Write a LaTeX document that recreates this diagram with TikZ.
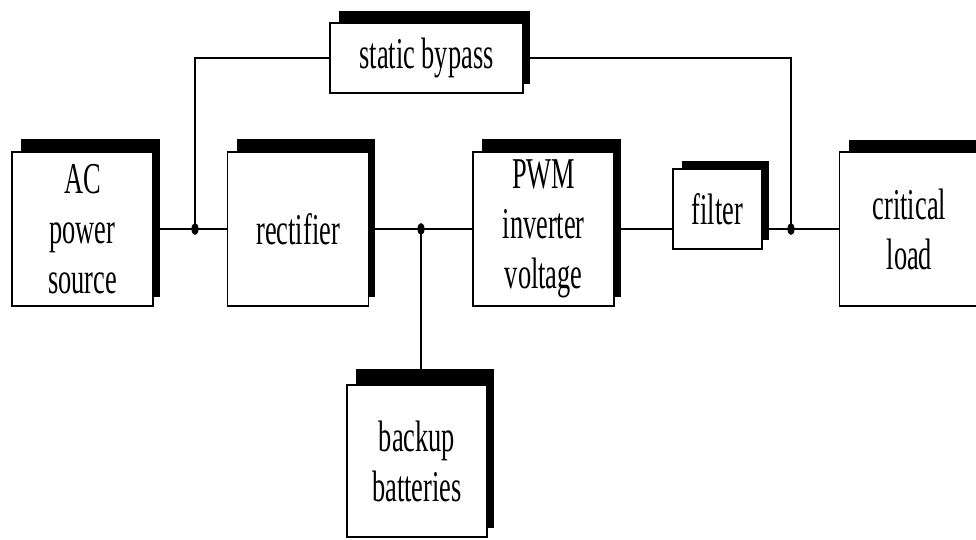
\documentclass[tikz,border=0pt]{standalone}
\usepackage{fontspec}
\setmainfont{Liberation Serif}[FakeStretch=0.6]
\usetikzlibrary{positioning, backgrounds}

\begin{document}
\begin{tikzpicture}[
    x=1pt, y=-1pt,
    block/.style={rectangle, draw, line width=1.6pt, fill=white, inner sep=0pt,
                  minimum width=141pt, minimum height=154pt, align=center,
                  font=\fontsize{44}{50}\selectfont},
    wire/.style={line width=1.3pt},
    junction/.style={fill},
]
    \useasboundingbox (0,0) rectangle (976,539);

    \node[block] (ac) at (82.5,229) {AC\\power\\source};
    \node[block, right=73pt of ac] (rect) {rectifier};
    \node[block, right=103pt of rect] (pwm) {PWM\\inverter\\voltage};
    \node[block, right=57pt of pwm, yshift=20pt, minimum width=89pt, minimum height=80pt] (filter) {filter};
    \node[block, right=76pt of filter, yshift=-20pt, minimum width=140pt] (load) {critical\\load};
    \node[block, minimum width=193pt, minimum height=70pt] (bypass) at (426.5,58) {static bypass};
    \node[block, minimum width=140pt, minimum height=152pt] (batt) at (417,461) {backup\\batteries};

    % junction points on the main bus
    \coordinate (j1) at (195,229);
    \coordinate (j2) at (421,229);
    \coordinate (j3) at (791,229);
    \coordinate (bt) at ([yshift=15pt]batt.north);

    \draw[wire] (ac) -- (rect);
    \draw[wire] (rect) -- (pwm);
    \draw[wire] (pwm.east) -- (pwm.east -| filter.west);
    \draw[wire] (filter.east |- load.west) -- (load);
    \draw[wire] (j1) |- (bypass.west);
    \draw[wire] (bypass.east) -| (j3);
    \draw[wire] (j2) -- (j2 |- bt);

    \foreach \j in {j1, j2, j3}
        \fill[junction] (\j) ellipse [x radius=3.5pt, y radius=6pt];

    % black shadows behind the boxes
    \begin{scope}[on background layer]
        \foreach \n/\t in {ac/12, rect/12, pwm/12, filter/7, load/11, bypass/11, batt/15}
            \fill ([xshift=10pt, yshift=\t pt]\n.north west) rectangle ([xshift=6pt, yshift=10pt]\n.south east);
    \end{scope}
\end{tikzpicture}
\end{document}
